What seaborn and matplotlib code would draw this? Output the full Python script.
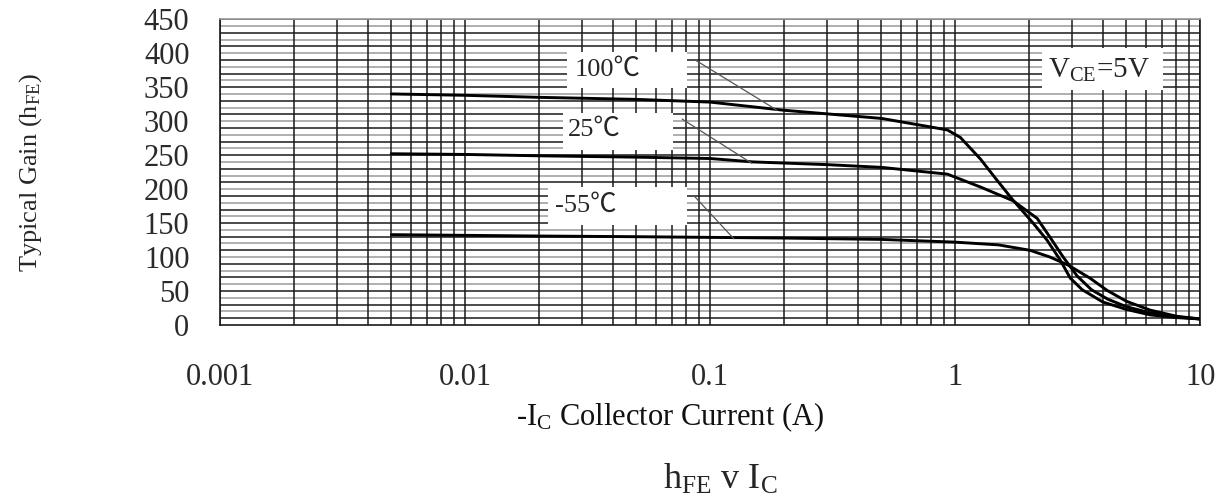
import numpy as np
import pandas as pd
import seaborn as sns
import matplotlib.pyplot as plt
from matplotlib.patches import Rectangle
from matplotlib.ticker import FixedLocator, NullFormatter

# Datos (corriente de colector en A, ganancia hFE)
ic_100 = [0.005, 0.01, 0.02, 0.05, 0.1, 0.2, 0.5, 0.75, 0.93, 1.05, 1.27, 1.46,
          1.72, 2.08, 2.37, 2.68, 2.95, 3.3, 4.0, 5.0, 6.25, 8.0, 10.0]
hfe_100 = [340, 338, 335, 332, 328, 316, 304, 293, 287, 276, 244, 216,
           184, 150, 125, 96, 69, 52, 34, 23, 15, 11, 9]

ic_25 = [0.005, 0.01, 0.02, 0.05, 0.1, 0.15, 0.3, 0.5, 0.93, 1.27, 1.72, 2.16,
         2.44, 2.76, 3.15, 3.6, 4.2, 5.0, 6.25, 8.0, 10.0]
hfe_25 = [252, 251, 249, 247, 245, 240, 236, 232, 222, 203, 183, 157,
          129, 100, 72, 52, 38, 27, 18, 12, 9]

ic_m55 = [0.005, 0.01, 0.02, 0.05, 0.1, 0.2, 0.5, 1.0, 1.5, 2.02, 2.44, 2.9,
          3.55, 4.17, 5.0, 6.25, 8.0, 10.0]
hfe_m55 = [133, 132, 131, 130, 129, 128, 126, 122, 118, 110, 100, 88,
           69, 51, 35, 22, 13, 9]

temps = ['100℃', '25℃', '-55℃']
x_ticks = [0.001, 0.01, 0.1, 1, 10]
x_tick_labels = ['0.001', '0.01', '0.1', '1', '10']
y_ticks = list(range(0, 451, 50))

datos = pd.concat([
    pd.DataFrame({'ic': ic_100, 'hfe': hfe_100, 'temp': temps[0]}),
    pd.DataFrame({'ic': ic_25, 'hfe': hfe_25, 'temp': temps[1]}),
    pd.DataFrame({'ic': ic_m55, 'hfe': hfe_m55, 'temp': temps[2]}),
])

sns.set_style('white')
plt.rcParams['font.family'] = ['Liberation Serif', 'DejaVu Serif']
plt.rcParams['mathtext.fontset'] = 'custom'
plt.rcParams['mathtext.rm'] = 'Liberation Serif'
plt.rcParams['mathtext.it'] = 'Liberation Serif'

fig = plt.figure(figsize=(12.31, 5.04), dpi=100)
ax = fig.add_axes([0.1787, 0.355, 0.7963, 0.607])

# Rejilla
for v in range(10, 451, 10):
    col = '#1a1a1a' if (v // 10) % 2 == 1 else '#9a9a9a'
    ax.axhline(v, color=col, lw=1.1, zorder=0)
minors = [m * 10.0 ** e for e in range(-3, 1) for m in range(1, 10)] + [10]
for v in minors:
    ax.axvline(v, color='#1a1a1a', lw=1.1, zorder=0)

sns.lineplot(data=datos, x='ic', y='hfe', hue='temp', units='temp', estimator=None,
             palette=['black'] * 3, linewidth=2.1, legend=False, ax=ax, sort=False, zorder=3)

ax.set_xscale('log')
ax.set_xlim(0.001, 10)
ax.set_ylim(0, 450)
ax.xaxis.set_major_locator(FixedLocator(x_ticks))
ax.set_xticklabels(x_tick_labels)
ax.xaxis.set_minor_formatter(NullFormatter())
ax.set_yticks(y_ticks)
ax.tick_params(axis='both', which='both', length=0, labelsize=22, colors='#2a2a2a')
ax.tick_params(axis='y', pad=22)
ax.tick_params(axis='x', pad=27)
for s in ax.spines.values():
    s.set_color('#1a1a1a')
    s.set_linewidth(1.2)
ax.spines['top'].set_color('#9a9a9a')

ax.set_xlabel('')
ax.set_ylabel(r'Typical Gain (h$_{\rm FE}$)', fontsize=19, labelpad=72)
fig.text(0.544, 0.173, r'-I$_{\rm C}$ Collector Current (A)', fontsize=22,
         ha='center', va='center', color='#111111')

# Cajas y etiquetas de curvas
cajas = [((0.0260, 348.5), (0.0806, 401.5)), ((0.0252, 257), (0.0706, 312)),
         ((0.0218, 147), (0.0806, 203)), ((2.264, 345.6), (7.07, 407))]
for (x0, y0), (x1, y1) in cajas:
    ax.add_patch(Rectangle((x0, y0), x1 - x0, y1 - y0, facecolor='white',
                           edgecolor='none', zorder=4))
fam = ['Liberation Serif', 'Noto Sans CJK SC']
ax.text(0.0281, 375, temps[0], fontsize=19, va='center', zorder=5, family=fam)
ax.text(0.0263, 287, temps[1], fontsize=19, va='center', zorder=5, family=fam)
ax.text(0.0233, 176, temps[2], fontsize=19, va='center', zorder=5, family=fam)
ax.text(2.4, 375, r'V$_{\rm CE}$=5V', fontsize=21, va='center', zorder=5)

ax.plot([0.0869, 0.1876], [390, 316], color='#555555', lw=0.9, zorder=5)
ax.plot([0.0769, 0.148], [303, 238], color='#555555', lw=0.9, zorder=5)
ax.plot([0.086, 0.125], [190, 127], color='#555555', lw=0.9, zorder=5)

fig.text(0.585, 0.048, r'h$_{\rm FE}$ v I$_{\rm C}$', fontsize=26, ha='center', va='center')

fig.savefig('out.png', dpi=100)
